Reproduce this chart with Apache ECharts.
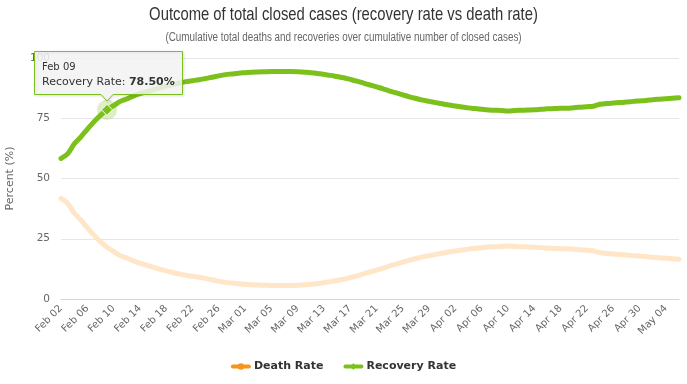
<!DOCTYPE html>
<html>
<head>
<meta charset="utf-8">
<script src="https://cdn.jsdelivr.net/npm/echarts@6/dist/echarts.min.js"></script>
<style>
html,body{margin:0;padding:0;background:#fff;}
#chart{width:687px;height:384px;}
</style>
</head>
<body>
<div id="chart"></div>
<script>
var categories = [
'Feb 02','Feb 03','Feb 04','Feb 05','Feb 06','Feb 07','Feb 08','Feb 09','Feb 10','Feb 11','Feb 12','Feb 13','Feb 14','Feb 15','Feb 16','Feb 17','Feb 18','Feb 19','Feb 20','Feb 21','Feb 22','Feb 23','Feb 24','Feb 25','Feb 26','Feb 27','Feb 28','Feb 29',
'Mar 01','Mar 02','Mar 03','Mar 04','Mar 05','Mar 06','Mar 07','Mar 08','Mar 09','Mar 10','Mar 11','Mar 12','Mar 13','Mar 14','Mar 15','Mar 16','Mar 17','Mar 18','Mar 19','Mar 20','Mar 21','Mar 22','Mar 23','Mar 24','Mar 25','Mar 26','Mar 27','Mar 28','Mar 29','Mar 30','Mar 31',
'Apr 01','Apr 02','Apr 03','Apr 04','Apr 05','Apr 06','Apr 07','Apr 08','Apr 09','Apr 10','Apr 11','Apr 12','Apr 13','Apr 14','Apr 15','Apr 16','Apr 17','Apr 18','Apr 19','Apr 20','Apr 21','Apr 22','Apr 23','Apr 24','Apr 25','Apr 26','Apr 27','Apr 28','Apr 29','Apr 30',
'May 01','May 02','May 03','May 04','May 05','May 06'
];

var deathRate = [
41.7, 39.8, 35.7, 32.8, 29.6, 26.5, 23.8, 21.5, 19.8, 18.0,
17.0, 15.8, 14.8, 14.0, 13.2, 12.4, 11.7, 11.0, 10.4, 9.8,
9.4, 9.0, 8.5, 8.0, 7.4, 6.9, 6.6, 6.3, 6.1, 5.9,
5.8, 5.7, 5.6, 5.6, 5.6, 5.6, 5.7, 5.9, 6.1, 6.4,
6.8, 7.2, 7.7, 8.2, 8.9, 9.6, 10.4, 11.2, 12.0, 12.8,
13.7, 14.5, 15.3, 16.1, 16.8, 17.5, 18.0, 18.5, 19.0, 19.5,
19.9, 20.3, 20.7, 21.0, 21.3, 21.6, 21.7, 21.8, 22.0, 21.8,
21.7, 21.6, 21.5, 21.3, 21.1, 21.0, 20.9, 20.9, 20.6, 20.4,
20.2, 20.0, 19.2, 18.9, 18.7, 18.5, 18.3, 18.0, 17.8, 17.6,
17.3, 17.1, 16.9, 16.7, 16.5
];

var recoveryRate = [
58.3, 60.2, 64.3, 67.2, 70.4, 73.5, 76.2, 78.5, 80.2, 82.0,
83.0, 84.2, 85.2, 86.0, 86.8, 87.6, 88.3, 89.0, 89.6, 90.2,
90.6, 91.0, 91.5, 92.0, 92.6, 93.1, 93.4, 93.7, 93.9, 94.1,
94.2, 94.3, 94.4, 94.4, 94.4, 94.4, 94.3, 94.1, 93.9, 93.6,
93.2, 92.8, 92.3, 91.8, 91.1, 90.4, 89.6, 88.8, 88.0, 87.2,
86.3, 85.5, 84.7, 83.9, 83.2, 82.5, 82.0, 81.5, 81.0, 80.5,
80.1, 79.7, 79.3, 79.0, 78.7, 78.4, 78.3, 78.2, 78.0, 78.2,
78.3, 78.4, 78.5, 78.7, 78.9, 79.0, 79.1, 79.1, 79.4, 79.6,
79.8, 80.0, 80.8, 81.1, 81.3, 81.5, 81.7, 82.0, 82.2, 82.4,
82.7, 82.9, 83.1, 83.3, 83.5
];

var yTicks = [0, 25, 50, 75, 100];
var highlightIndex = 7;
var titleText = 'Outcome of total closed cases (recovery rate vs death rate)';
var subtitleText = '(Cumulative total deaths and recoveries over cumulative number of closed cases)';

var FONT = '"DejaVu Sans", Verdana, sans-serif';
var GREEN = '#7cc01c';
var ORANGE = '#f7941d';

var chart = echarts.init(document.getElementById('chart'), null, {renderer: 'canvas'});

var option = {
  animation: false,
  backgroundColor: '#ffffff',
  grid: {left: 61, right: 8, top: 58, bottom: 85, containLabel: false, outerBoundsMode: 'none'},
  legend: {
    bottom: 7,
    left: 'center',
    itemGap: 20,
    itemWidth: 16,
    itemHeight: 8,
    textStyle: {fontFamily: FONT, fontSize: 11, fontWeight: 'bold', color: '#333333'},
    data: [
      {name: 'Death Rate', itemStyle: {color: ORANGE}, lineStyle: {color: ORANGE, width: 4}},
      {name: 'Recovery Rate', itemStyle: {color: GREEN}, lineStyle: {color: GREEN, width: 4}}
    ]
  },
  xAxis: {
    type: 'category',
    data: categories,
    boundaryGap: false,
    axisLine: {lineStyle: {color: '#ccd6eb', width: 1}},
    axisTick: {show: false},
    axisLabel: {
      interval: 3,
      rotate: 45,
      margin: 8,
      fontFamily: FONT,
      fontSize: 10,
      color: '#666666'
    },
    splitLine: {show: false}
  },
  yAxis: {
    type: 'value',
    min: 0, max: 100, interval: 25,
    name: 'Percent (%)',
    nameLocation: 'middle',
    nameRotate: 90,
    nameGap: 45,
    nameTextStyle: {fontFamily: FONT, fontSize: 11, color: '#666666'},
    axisLine: {show: false},
    axisTick: {show: false},
    axisLabel: {
      margin: 11,
      fontFamily: FONT,
      fontSize: 10.5,
      color: '#666666',
      formatter: function (v) { return yTicks.indexOf(v) >= 0 ? String(v) : ''; }
    },
    splitLine: {lineStyle: {color: '#e6e6e6', width: 1}}
  },
  series: [{
    name: 'Death Rate',
    type: 'line',
    data: deathRate,
    showSymbol: false,
    symbol: 'circle',
    smooth: 0.3,
    itemStyle: {color: ORANGE},
    lineStyle: {color: '#ffe6c8', width: 5, cap: 'round', join: 'round'},
    emphasis: {disabled: true},
    z: 2
  }, {
    name: 'Recovery Rate',
    type: 'line',
    data: recoveryRate,
    showSymbol: false,
    symbol: 'diamond',
    smooth: 0.3,
    itemStyle: {color: GREEN},
    lineStyle: {color: GREEN, width: 5, cap: 'round', join: 'round'},
    emphasis: {disabled: true},
    markPoint: {
      silent: true,
      animation: false,
      label: {show: false},
      data: [
        {coord: [highlightIndex, recoveryRate[highlightIndex]], symbol: 'circle', symbolSize: 20,
          itemStyle: {color: 'rgba(124,192,28,0.25)'}},
        {coord: [highlightIndex, recoveryRate[highlightIndex]], symbol: 'diamond', symbolSize: 11,
          itemStyle: {color: GREEN, borderColor: '#ffffff', borderWidth: 1}}
      ]
    },
    z: 3
  }]
};

chart.setOption(option);

var p = chart.convertToPixel({seriesIndex: 1}, [highlightIndex, recoveryRate[highlightIndex]]);
var bx = Math.round(p[0]) - 73, by = Math.round(p[1]) - 59;
var W = 149, H = 44, AX = 73;

chart.setOption({
  graphic: [
    {
      type: 'text', x: 343.5, y: 15, scaleX: 0.78, z: 100,
      style: {text: titleText, font: '19px "Liberation Sans", Arial, sans-serif', fill: '#333333',
        align: 'center', verticalAlign: 'middle'}
    },
    {
      type: 'text', x: 343.5, y: 38, scaleX: 0.79, z: 100,
      style: {text: subtitleText, font: '12.5px "Liberation Sans", Arial, sans-serif', fill: '#666666',
        align: 'center', verticalAlign: 'middle'}
    },
    {
      type: 'group', x: bx, y: by, z: 100,
      children: [
        {type: 'polygon', z: 100,
          shape: {points: [[0.5, 0.5], [W - 0.5, 0.5], [W - 0.5, H - 0.5], [AX + 6, H - 0.5], [AX, H + 6],
            [AX - 6, H - 0.5], [0.5, H - 0.5]]},
          style: {fill: 'rgba(247,247,247,0.85)', stroke: GREEN, lineWidth: 1,
            shadowBlur: 3, shadowOffsetX: 1, shadowOffsetY: 1, shadowColor: 'rgba(0,0,0,0.12)'}},
        {type: 'text', z: 101, x: 8, y: 16,
          style: {text: categories[highlightIndex], font: '10px "DejaVu Sans", sans-serif', fill: '#333333',
            verticalAlign: 'middle'}},
        {type: 'text', z: 101, x: 8, y: 31,
          style: {
            text: '{a|Recovery Rate: }{b|' + recoveryRate[highlightIndex].toFixed(2) + '%}',
            verticalAlign: 'middle',
            rich: {
              a: {fontFamily: 'DejaVu Sans', fontSize: 11, fill: '#333333', color: '#333333'},
              b: {fontFamily: 'DejaVu Sans', fontSize: 11, fontWeight: 'bold', fill: '#333333', color: '#333333'}
            }
          }}
      ]
    }
  ]
});
</script>
</body>
</html>
